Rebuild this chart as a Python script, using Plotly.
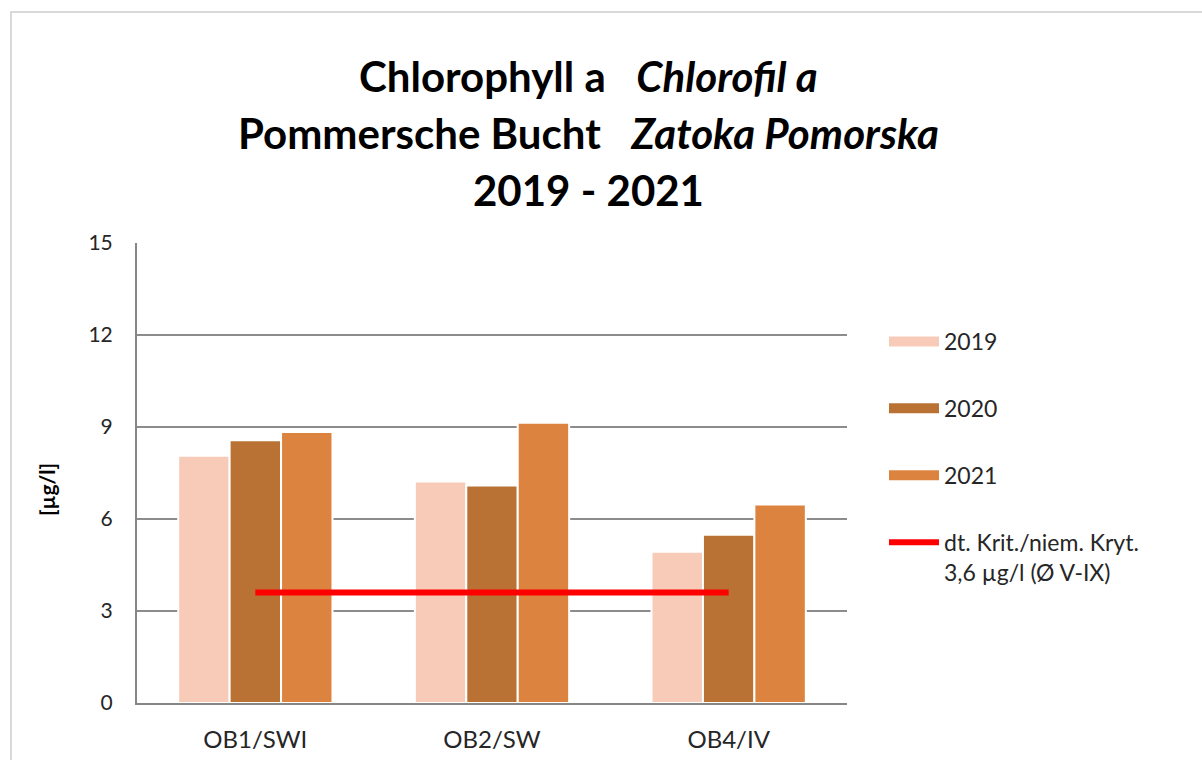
import plotly.graph_objects as go

categories = ["OB1/SWI", "OB2/SW", "OB4/IV"]
years = ["2019", "2020", "2021"]
values_2019 = [8.06, 7.22, 4.93]
values_2020 = [8.57, 7.09, 5.49]
values_2021 = [8.84, 9.14, 6.47]
criterion = [3.6, 3.6, 3.6]
criterion_label = "dt. Krit./niem. Kryt.<br>3,6 µg/l (Ø V-IX)"
colors = ["#F8CBB9", "#B97234", "#DC843F"]
y_ticks = [0, 3, 6, 9, 12, 15]

FONT = "Lato"
series = [values_2019, values_2020, values_2021]

fig = go.Figure()
for yr, vals, col in zip(years, series, colors):
    fig.add_trace(go.Bar(
        x=categories, y=vals, name=yr, marker=dict(color=col, line=dict(color="white", width=2)),
        showlegend=False, legendgroup=yr,
    ))
# legend entries (wide swatches)
for yr, col in zip(years, colors):
    fig.add_trace(go.Scatter(
        x=[None], y=[None], mode="lines", name=yr, legendgroup=yr,
        line=dict(color=col, width=14), showlegend=True,
    ))
fig.add_trace(go.Scatter(
    x=categories, y=criterion, mode="lines", name=criterion_label, legendgroup="crit",
    line=dict(color="#FF0000", width=6),
))

title_lines = [
    ("Chlorophyll a   <i>Chlorofil a</i>", 76),
    ("Pommersche Bucht   <i>Zatoka Pomorska</i>", 133),
    ("2019 - 2021", 190),
]
L, R, T, B = 137, 355, 243, 57
W, H = 1202, 760
ph = H - T - B
pw = W - L - R
annotations = []
for txt, ypx in title_lines:
    annotations.append(dict(
        text=txt, xref="paper", yref="paper", x=(588 - L) / pw, y=(H - B - ypx) / ph,
        xanchor="center", yanchor="middle", showarrow=False,
        font=dict(family=FONT, size=42, color="black", weight="bold"),
    ))
annotations.append(dict(
    text="<b>[µg/l]</b>", xref="paper", yref="paper", x=(46 - L) / pw, y=(H - B - 490) / ph,
    xanchor="center", yanchor="middle", textangle=-90, showarrow=False,
    font=dict(family=FONT, size=21, color="black"),
))

fig.update_layout(
    width=W, height=H,
    margin=dict(l=L, r=R, t=T, b=B),
    paper_bgcolor="white", plot_bgcolor="white",
    barmode="group", bargap=0.348, bargroupgap=0,
    font=dict(family=FONT, size=21, color="#404040"),
    annotations=annotations,
    legend=dict(
        x=(884 - L) / pw, y=(H - B - 320) / ph, xanchor="left", yanchor="top",
        font=dict(family=FONT, size=23, color="#262626"),
        tracegroupgap=34, valign="top", traceorder="grouped", itemwidth=50,
        bgcolor="rgba(0,0,0,0)",
    ),
    shapes=[dict(
        type="rect", xref="paper", yref="paper",
        x0=(11 - L) / pw, x1=(1215 - L) / pw, y0=(H - B - 775) / ph, y1=(H - B - 12) / ph,
        line=dict(color="#D9D9D9", width=2), fillcolor="rgba(0,0,0,0)", layer="below",
    )],
    xaxis=dict(
        showline=True, linecolor="#868686", linewidth=2, showgrid=False, automargin=False,
        ticks="", ticklabelstandoff=14, tickfont=dict(size=24, color="#262626"),
    ),
    yaxis=dict(
        range=[0, 15], tickvals=y_ticks, showgrid=True, gridcolor="#8C8C8C", gridwidth=1.5,
        showline=True, linecolor="#868686", linewidth=2, zeroline=False, automargin=False,
        ticks="", ticklabelstandoff=18, tickfont=dict(size=21, color="#262626"),
    ),
)

fig.write_html("out.html", config={"displayModeBar": False},
               post_script="document.body.style.margin='0';")
